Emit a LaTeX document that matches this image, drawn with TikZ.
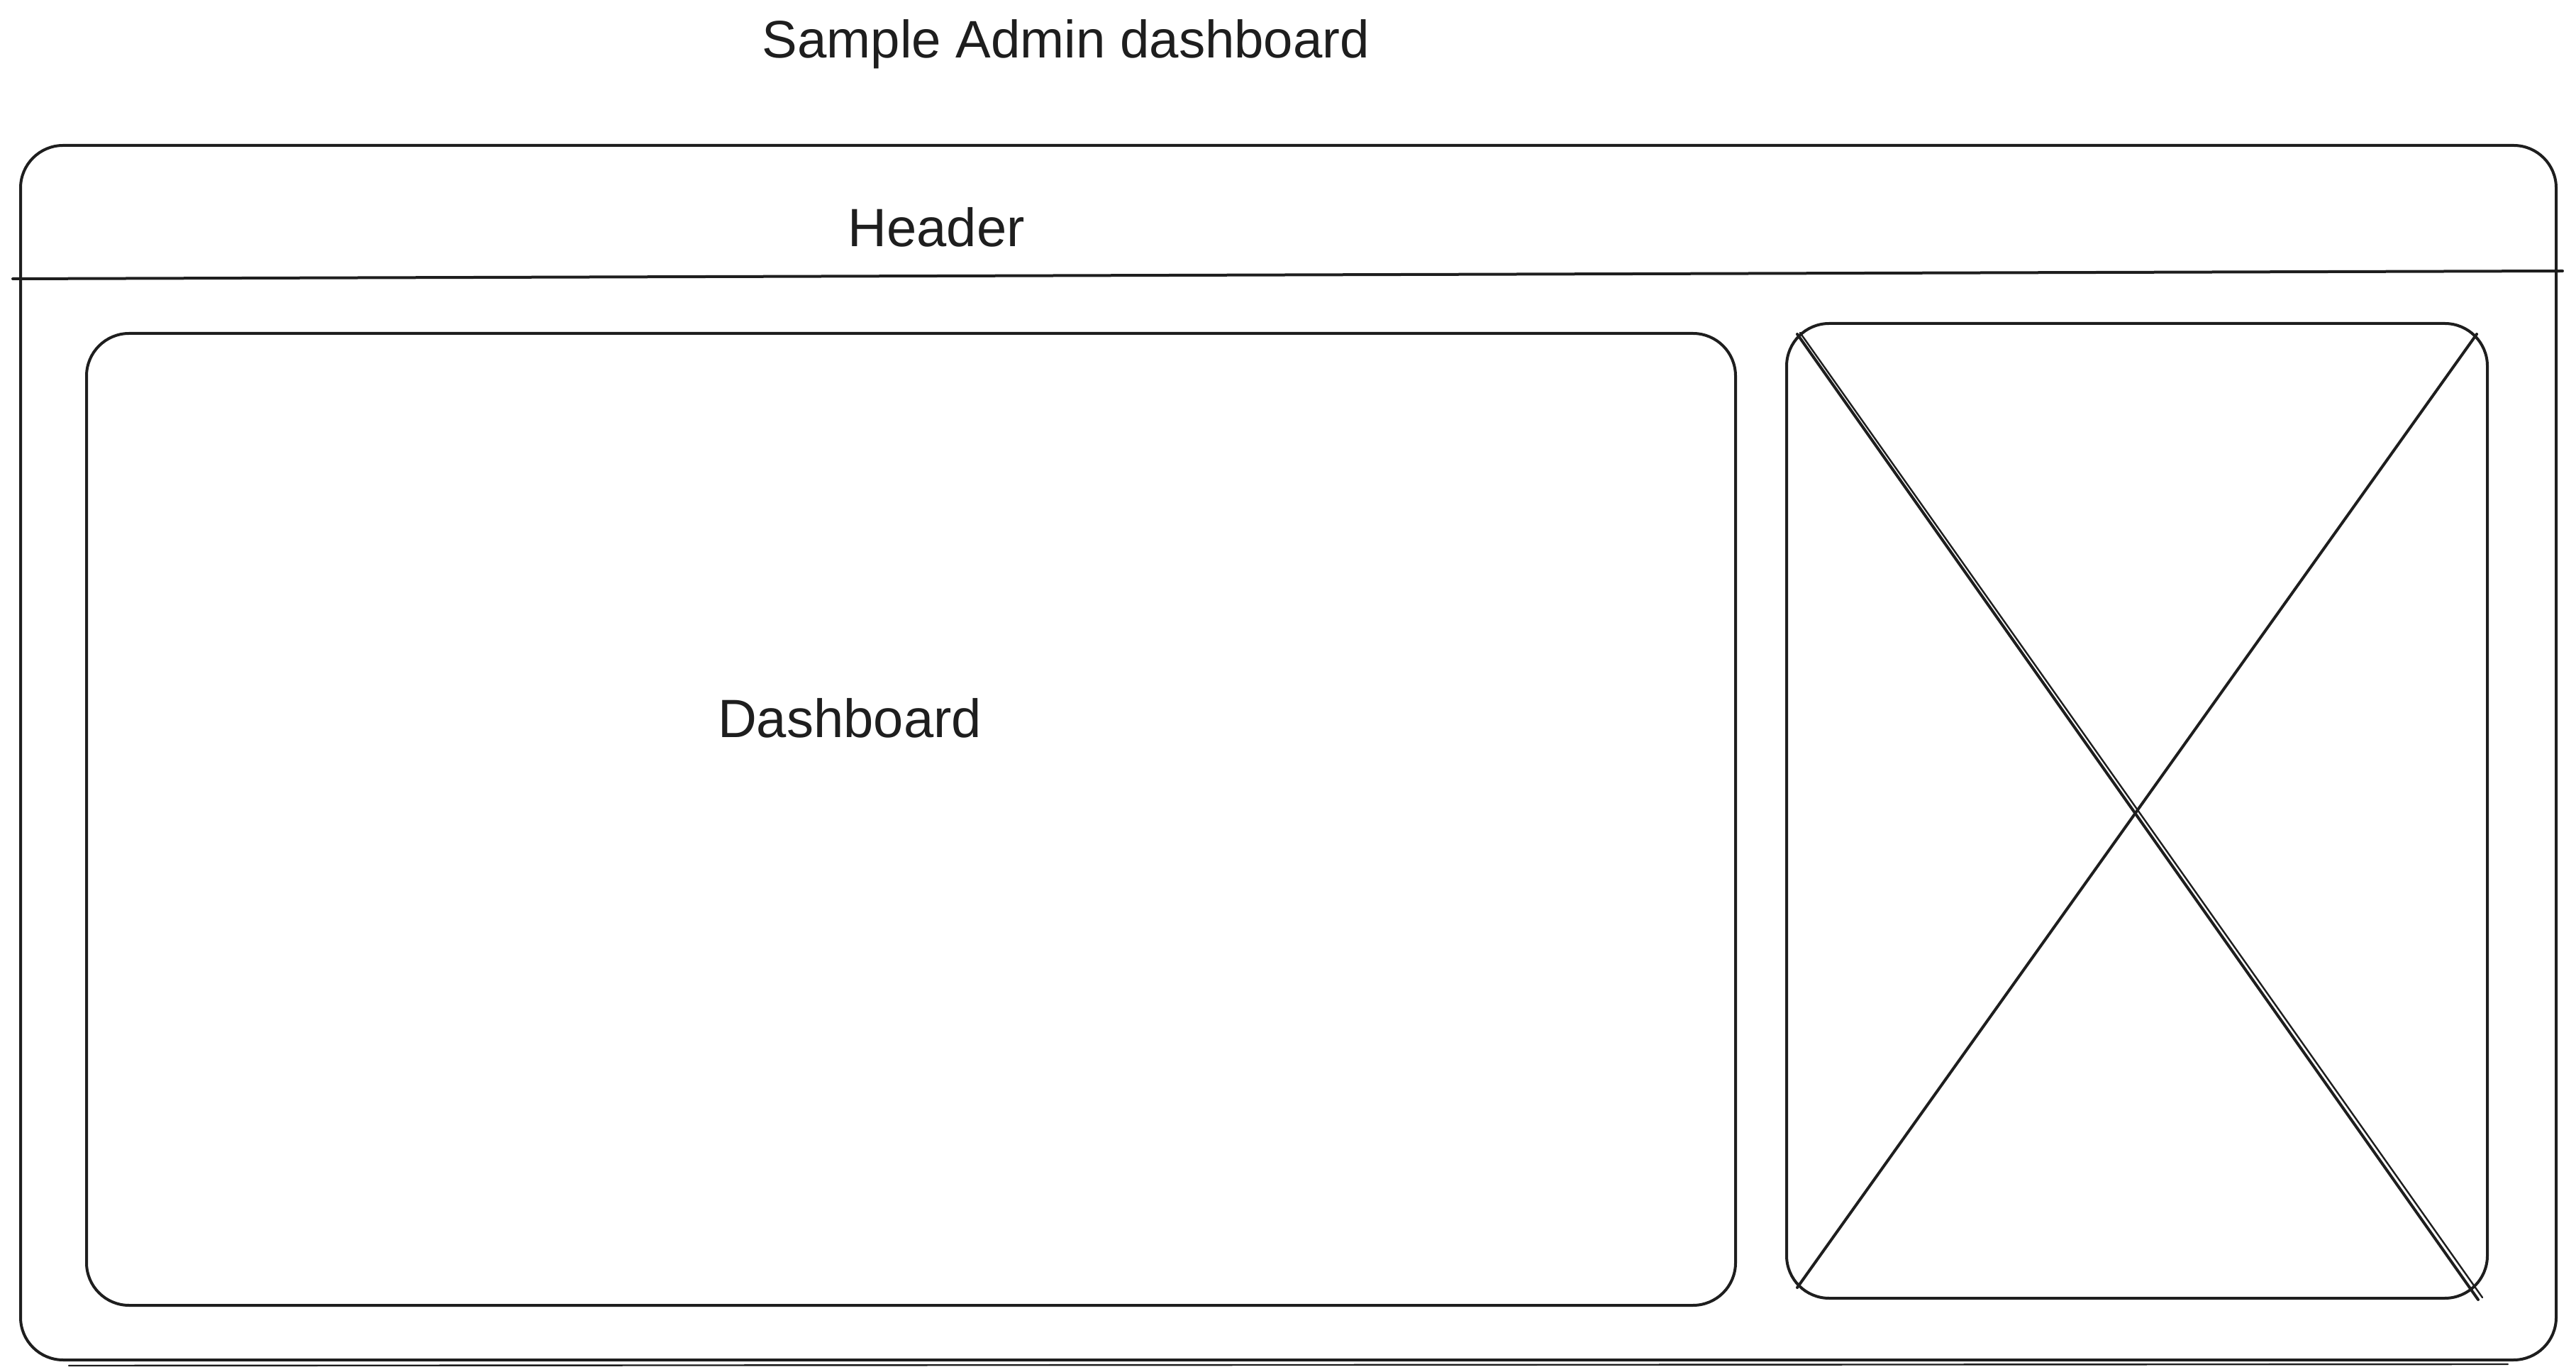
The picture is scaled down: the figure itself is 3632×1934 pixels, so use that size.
\documentclass[tikz,border=0pt]{standalone}
\usepackage{fontspec}
\setmainfont{Liberation Sans}
\usetikzlibrary{calc}
\definecolor{ink}{HTML}{1E1E1E}
\begin{document}
\begin{tikzpicture}[x=0.25pt,y=-0.25pt,
  panel/.style={draw=ink, line width=1pt, rounded corners=15pt, inner sep=0pt, anchor=north west},
  stroke/.style={draw=ink, line width=1pt, line cap=round},
  thin stroke/.style={draw=ink, line width=0.6pt, line cap=round},
  caption/.style={text=ink, inner sep=0pt, font=\fontsize{19}{22}\selectfont}]
\useasboundingbox[fill=white] (0,0) rectangle (3632,1934);

% page frame and header rule
\node[panel, minimum width=893.75pt, minimum height=428pt] (frame) at (27,203) {};
\coordinate (hl) at (18,393);
\coordinate (hr) at (3613,382);
\draw[stroke] (hl) -- (hr);
\draw[thin stroke] ($(frame.south west)+(70,6)$) -- ($(frame.south east)+(-70,4)$);

% main dashboard panel
\node[panel, minimum width=581.25pt, minimum height=342.5pt] (dash) at (120,468) {};

% image placeholder with cross
\node[panel, minimum width=247pt, minimum height=343.5pt] (img) at (2517,454) {};
\coordinate (imgTL) at ($(img.north west)+(17,17)$);
\coordinate (imgTR) at ($(img.north east)+(-17,17)$);
\coordinate (imgBL) at ($(img.south west)+(17,-17)$);
\coordinate (imgBR) at ($(img.south east)+(-15,0)$);
\draw[stroke] (imgTL) -- (imgBR);
\draw[thin stroke] ($(imgTL)+(4,-2)$) -- ($(imgBR)+(6,-3)$);
\draw[stroke] (imgBL) -- (imgTR);

% labels
\node[caption, font=\fontsize{18.6}{22}\selectfont] (title) at (1503,62) {Sample Admin dashboard};
\node[caption] (header) at (1320,320) {Header};
\node[caption] (dashlabel) at (1198,1012) {Dashboard};
\end{tikzpicture}
\end{document}
